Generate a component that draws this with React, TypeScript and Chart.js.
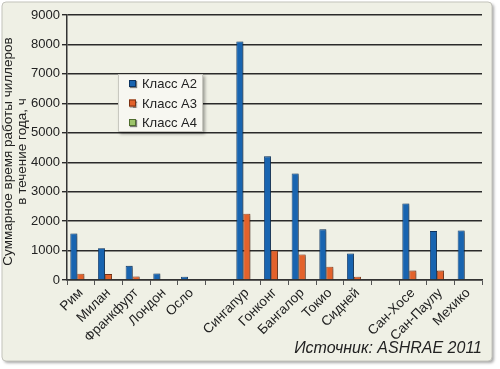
import React, { useEffect, useRef } from "react";
import { Chart, registerables } from "chart.js";

Chart.register(...registerables);

const categories = ["Рим", "Милан", "Франкфурт", "Лондон", "Осло", "", "Сингапур", "Гонконг", "Бангалор", "Токио", "Сидней", "", "Сан-Хосе", "Сан-Паулу", "Мехико"];
const classA2 = [1580, 1080, 480, 220, 110, null, 8100, 4200, 3620, 1720, 900, null, 2600, 1660, 1680];
const classA3 = [210, 200, 120, null, null, null, 2250, 1000, 870, 450, 110, null, 320, 320, null];
const classA4 = [null, null, null, null, null, null, null, null, null, null, null, null, null, null, null];
const seriesLabels = ["Класс A2", "Класс A3", "Класс A4"];
const yTitle = ["Суммарное время работы чиллеров", "в течение года, ч"];
const sourceText = "Источник: ASHRAE 2011";

const FONT = "'Liberation Sans', Arial, sans-serif";
const COLORS = ["#1864b0", "#e3622b", "#9cc46b"];
const BORDERS = ["#0d3461", "#7a3214", "#4f6d30"];

const framePlugin = {
  id: "frame",
  beforeDraw(chart: any) {
    const ctx = chart.ctx;
    ctx.save();
    ctx.fillStyle = "#ffffff";
    ctx.fillRect(0, 0, chart.width, chart.height);
    ctx.shadowColor = "rgba(0,0,0,0.35)";
    ctx.shadowOffsetX = 2;
    ctx.shadowOffsetY = 2;
    ctx.shadowBlur = 3;
    ctx.fillStyle = "#eff0e5";
    ctx.beginPath();
    ctx.roundRect(2, 2, 490, 359, 4);
    ctx.fill();
    ctx.shadowColor = "transparent";
    ctx.strokeStyle = "#c4c4bc";
    ctx.lineWidth = 1;
    ctx.stroke();
    ctx.restore();
  },
  beforeDatasetsDraw(chart: any) {
    const ctx = chart.ctx;
    ctx.save();
    ctx.shadowColor = "rgba(0,0,0,0.45)";
    ctx.shadowOffsetX = 3;
    ctx.shadowOffsetY = 1;
    ctx.shadowBlur = 3;
  },
  afterDatasetsDraw(chart: any) {
    chart.ctx.restore();
  },
  afterDraw(chart: any) {
    const ctx = chart.ctx;
    ctx.save();
    // y axis title
    const area = chart.chartArea;
    const midY = (area.top + area.bottom) / 2;
    ctx.fillStyle = "#222";
    ctx.font = `13.5px ${FONT}`;
    ctx.textAlign = "center";
    ctx.textBaseline = "middle";
    yTitle.forEach((line, i) => {
      ctx.save();
      ctx.translate(8 + i * 14.5, midY + 4);
      ctx.rotate(-Math.PI / 2);
      ctx.fillText(line, 0, 0);
      ctx.restore();
    });
    // legend
    const lx = 118, ly = 74, lw = 85, lh = 58;
    ctx.shadowColor = "rgba(0,0,0,0.35)";
    ctx.shadowOffsetX = 2;
    ctx.shadowOffsetY = 2;
    ctx.shadowBlur = 3;
    ctx.fillStyle = "#f7f7f1";
    ctx.fillRect(lx, ly, lw, lh);
    ctx.shadowColor = "transparent";
    ctx.strokeStyle = "#c8c8c0";
    ctx.lineWidth = 1;
    ctx.strokeRect(lx + 0.5, ly + 0.5, lw - 1, lh - 1);
    chart.data.datasets.forEach((ds: any, i: number) => {
      const cy = ly + 9.5 + i * 19.5;
      ctx.shadowColor = "rgba(0,0,0,0.5)";
      ctx.shadowOffsetX = 1;
      ctx.shadowOffsetY = 1;
      ctx.shadowBlur = 1;
      ctx.fillStyle = ds.backgroundColor;
      ctx.fillRect(lx + 11, cy - 3.5, 7, 7);
      ctx.shadowColor = "transparent";
      ctx.strokeStyle = ds.borderColor;
      ctx.strokeRect(lx + 11.5, cy - 3, 6, 6);
      ctx.fillStyle = "#222";
      ctx.font = `13px ${FONT}`;
      ctx.textBaseline = "middle";
      ctx.textAlign = "left";
      ctx.fillText(ds.label, lx + 24, cy + 1);
    });
    // source
    ctx.font = `italic 16px ${FONT}`;
    ctx.fillStyle = "#222";
    ctx.textAlign = "right";
    ctx.textBaseline = "alphabetic";
    ctx.fillText(sourceText, 482, 353);
    ctx.restore();
  },
};

export default function App() {
  const ref = useRef<HTMLCanvasElement>(null);
  useEffect(() => {
    const chart = new Chart(ref.current!, {
      type: "bar",
      data: {
        labels: categories,
        datasets: [classA2, classA3, classA4].map((d, i) => ({
          label: seriesLabels[i],
          data: d,
          backgroundColor: COLORS[i],
          borderColor: BORDERS[i],
          borderWidth: 0.8,
          categoryPercentage: 0.76,
          barPercentage: 1,
        })),
      },
      options: {
        responsive: false,
        animation: false,
        devicePixelRatio: 1,
        layout: { padding: { top: 15, right: 18, bottom: 0, left: 0 } },
        plugins: { legend: { display: false }, tooltip: { enabled: false } },
        scales: {
          x: {
            afterFit: (s: any) => { s.height = 89; },
            grid: { display: true, drawOnChartArea: false, tickLength: 5, color: "#555", offset: true },
            border: { color: "#333", width: 1.5 },
            ticks: { color: "#222", font: { family: FONT, size: 13.5 }, minRotation: 45, maxRotation: 45, autoSkip: false, padding: 0 },
          },
          y: {
            min: 0,
            max: 9000,
            afterFit: (s: any) => { s.width = 67; },
            grid: { color: "#2a2a2a", lineWidth: 1.4, tickLength: 5 },
            border: { color: "#333", width: 1.5 },
            ticks: { stepSize: 1000, color: "#222", font: { family: FONT, size: 13 }, padding: 2, callback: (v: any) => String(v) },
          },
        },
      },
      plugins: [framePlugin],
    });
    return () => chart.destroy();
  }, []);
  return (
    <div style={{ position: "fixed", left: 0, top: 0, width: 500, height: 369 }}>
      <canvas ref={ref} width={500} height={369} />
    </div>
  );
}
